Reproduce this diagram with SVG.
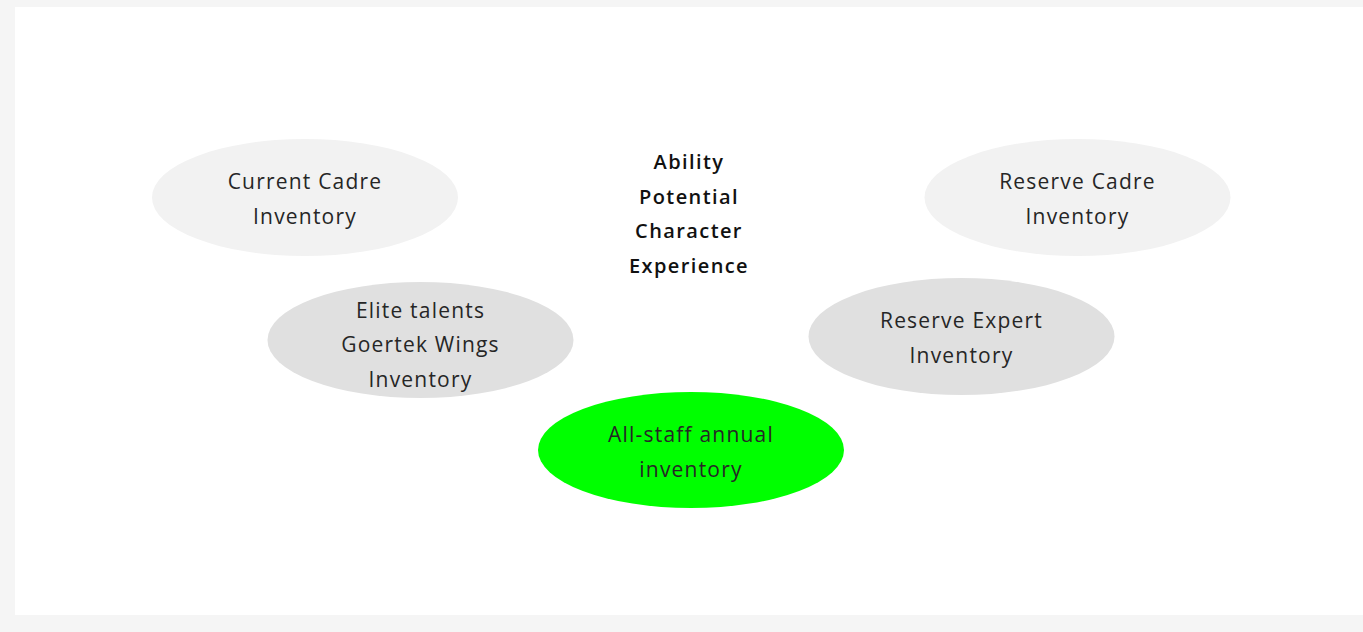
<svg xmlns="http://www.w3.org/2000/svg" width="1363" height="632" viewBox="0 0 1363 632">
<style>
.t{font-family:"Open Sans","Noto Sans",sans-serif;font-size:21px;fill:#262626;text-anchor:middle;letter-spacing:1.2px}
.b{font-family:"Open Sans","Noto Sans",sans-serif;font-size:20px;font-weight:600;fill:#111;text-anchor:middle;letter-spacing:1.4px}
.l1{fill:#f2f2f2}
.l2{fill:#e0e0e0}
</style>
<rect x="0" y="0" width="1363" height="632" fill="#f5f5f5"/>
<rect x="15" y="7" width="1348" height="608" fill="#ffffff"/>
<g id="center-text">
<text class="b" x="689" y="169">Ability</text>
<text class="b" x="689" y="204">Potential</text>
<text class="b" x="689" y="238">Character</text>
<text class="b" x="689" y="273">Experience</text>
</g>
<g id="current-cadre">
<ellipse class="l1" cx="305" cy="197.5" rx="153" ry="58.5"/>
<text class="t" x="305" y="189">Current Cadre</text>
<text class="t" x="305" y="224">Inventory</text>
</g>
<g id="reserve-cadre">
<ellipse class="l1" cx="1077.5" cy="197.5" rx="153" ry="58.5"/>
<text class="t" x="1077.5" y="189">Reserve Cadre</text>
<text class="t" x="1077.5" y="224">Inventory</text>
</g>
<g id="elite-talents">
<ellipse class="l2" cx="420.5" cy="340" rx="153" ry="58"/>
<text class="t" x="420.5" y="318">Elite talents</text>
<text class="t" x="420.5" y="352">Goertek Wings</text>
<text class="t" x="420.5" y="387">Inventory</text>
</g>
<g id="reserve-expert">
<ellipse class="l2" cx="961.5" cy="336.5" rx="153" ry="58.5"/>
<text class="t" x="961.5" y="328">Reserve Expert</text>
<text class="t" x="961.5" y="363">Inventory</text>
</g>
<g id="all-staff">
<ellipse fill="#00ff00" cx="691" cy="450" rx="153" ry="58"/>
<text class="t" x="691" y="442">All-staff annual</text>
<text class="t" x="691" y="477">inventory</text>
</g>
<g id="connectors"/>
</svg>
